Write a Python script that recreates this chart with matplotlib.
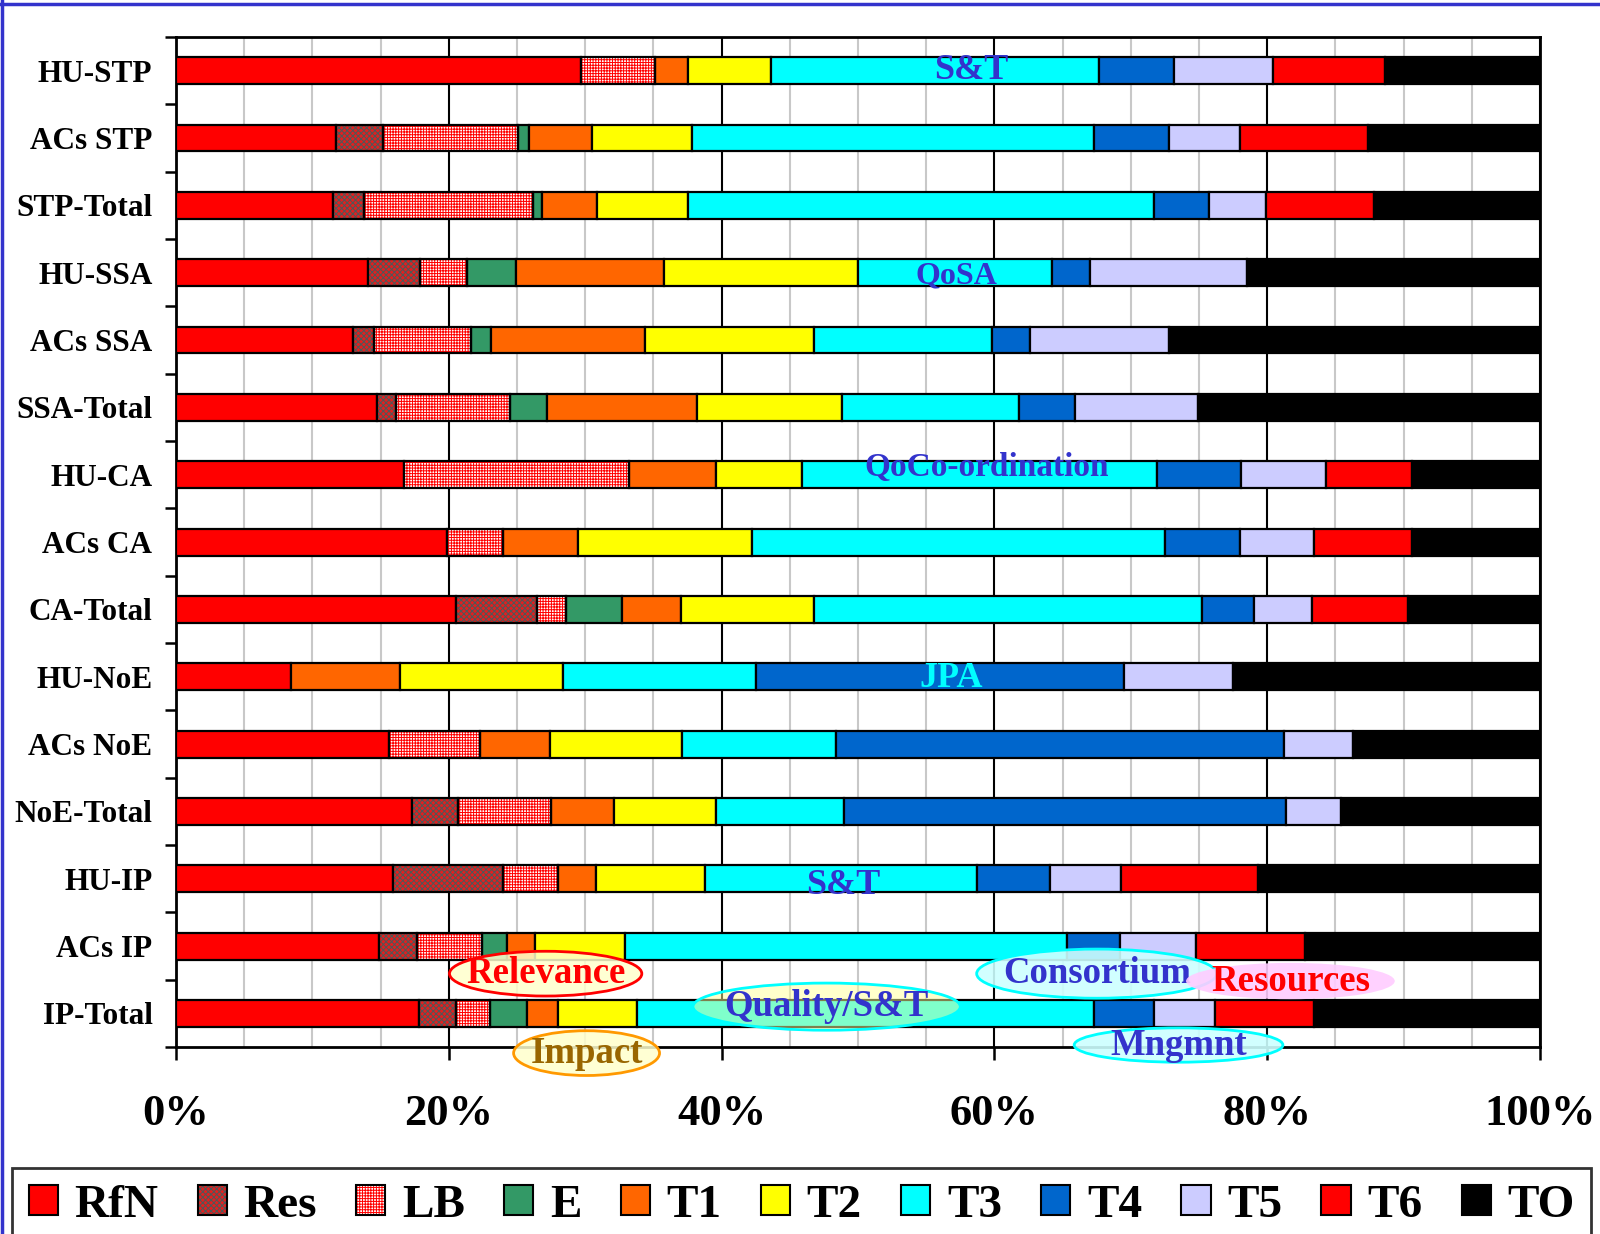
import matplotlib
matplotlib.use("Agg")
import matplotlib.pyplot as plt
import numpy as np
from matplotlib.patches import Patch, Ellipse
from matplotlib.lines import Line2D
from matplotlib.legend_handler import HandlerTuple
from matplotlib.font_manager import FontProperties

# ---------------- data ----------------
categories = ['HU-STP', 'ACs STP', 'STP-Total', 'HU-SSA', 'ACs SSA', 'SSA-Total',
              'HU-CA', 'ACs CA', 'CA-Total', 'HU-NoE', 'ACs NoE', 'NoE-Total',
              'HU-IP', 'ACs IP', 'IP-Total']
series_names = ['RfN', 'Res', 'LB', 'E', 'T1', 'T2', 'T3', 'T4', 'T5', 'T6', 'TO']

RfN = [29.7, 11.7, 11.5, 14.1, 13.0, 14.7, 16.7, 19.9, 20.5, 8.4, 15.6, 17.3, 15.9, 14.9, 17.8]
Res = [0.0, 3.5, 2.3, 3.8, 1.5, 1.4, 0.0, 0.0, 6.0, 0.0, 0.0, 3.4, 8.1, 2.8, 2.7]
LB  = [5.4, 9.9, 12.4, 3.4, 7.1, 8.4, 16.5, 4.1, 2.1, 0.0, 6.7, 6.8, 4.0, 4.7, 2.5]
E   = [0.0, 0.8, 0.6, 3.6, 1.5, 2.7, 0.0, 0.0, 4.1, 0.0, 0.0, 0.0, 0.0, 1.9, 2.7]
T1  = [2.4, 4.6, 4.1, 10.9, 11.3, 11.0, 6.4, 5.5, 4.3, 8.0, 5.1, 4.6, 2.8, 2.0, 2.3]
T2  = [6.1, 7.3, 6.6, 14.2, 12.4, 10.6, 6.3, 12.7, 9.8, 12.0, 9.7, 7.5, 8.0, 6.6, 5.8]
T3  = [24.1, 29.5, 34.2, 14.2, 13.0, 13.0, 26.0, 30.3, 28.4, 14.1, 11.3, 9.4, 19.9, 32.4, 33.5]
T4  = [5.5, 5.5, 4.0, 2.8, 2.8, 4.1, 6.2, 5.5, 3.8, 27.0, 32.8, 32.4, 5.4, 3.9, 4.4]
T5  = [7.2, 5.2, 4.2, 11.5, 10.2, 9.0, 6.2, 5.4, 4.3, 8.0, 5.1, 4.0, 5.2, 5.6, 4.5]
T6  = [8.2, 9.4, 7.9, 0.0, 0.0, 0.0, 6.3, 7.2, 7.0, 0.0, 0.0, 0.0, 10.0, 8.0, 7.2]
TO  = [11.4, 12.6, 12.2, 21.5, 27.2, 25.1, 9.4, 9.4, 9.7, 22.5, 13.7, 14.6, 20.7, 17.2, 16.6]

xtick_labels = ['0%', '20%', '40%', '60%', '80%', '100%']

# ---------------- styles ----------------
series_vals = [RfN, Res, LB, E, T1, T2, T3, T4, T5, T6, TO]
faces = ['#FF0000', '#E02020', '#FFFFFF', '#339966', '#FF6600', '#FFFF00',
         '#00FFFF', '#0066CC', '#CCCCFF', '#FF0000', '#000000']
hatches = [None, 'xxxxxx', '++++++', None, None, None, None, None, None, None, None]
hatch_cols = [None, '#4A5A5A', '#FF0000', None, None, None, None, None, None, None, None]

plt.rcParams['hatch.linewidth'] = 0.7
serif = ['Liberation Serif', 'DejaVu Serif']

fig = plt.figure(figsize=(16, 12.34), dpi=100)
ax = fig.add_axes([0.110, 0.1515, 0.8525, 0.8185])

y = np.arange(len(categories))
left = np.zeros(len(categories))
bar_h = 0.4
for vals, fc, hatch, hc in zip(series_vals, faces, hatches, hatch_cols):
    v = np.array(vals, dtype=float)
    lw = np.where(v > 0, 1.6, 0.0)
    if hatch is not None:
        ax.barh(y, v, left=left, height=bar_h, color=fc, hatch=hatch,
                edgecolor=hc, linewidth=0, zorder=3)
        ax.barh(y, v, left=left, height=bar_h, fill=False,
                edgecolor='black', linewidth=lw, zorder=4)
    else:
        ax.barh(y, v, left=left, height=bar_h, color=fc,
                edgecolor='black', linewidth=lw, zorder=3)
    left += v

ax.set_xlim(0, 100)
ax.set_ylim(len(categories) - 0.5, -0.5)

# x axis
ax.set_xticks(np.arange(0, 101, 20))
ax.set_xticklabels(xtick_labels, fontfamily=serif, fontweight='bold', fontsize=32)
ax.set_xticks(np.arange(0, 101, 5), minor=True)
ax.tick_params(axis='x', which='major', direction='out', length=9, width=1.8, pad=25)
ax.tick_params(axis='x', which='minor', length=0)
ax.grid(axis='x', which='minor', color='#C8C8C8', linewidth=1.5, zorder=0)
ax.grid(axis='x', which='major', color='black', linewidth=1.5, zorder=1)

# y axis: ticks at category boundaries, labels at centres
ax.set_yticks(np.arange(-0.5, len(categories), 1.0))
ax.set_yticklabels([])
ax.set_yticks(y, minor=True)
ax.set_yticklabels(categories, minor=True, fontfamily=serif, fontweight='bold', fontsize=22.5)
ax.tick_params(axis='y', which='major', direction='out', length=8, width=1.8)
ax.tick_params(axis='y', which='minor', length=0, pad=17)

for sp in ax.spines.values():
    sp.set_linewidth(2)
    sp.set_color('black')
ax.set_axisbelow(True)

# ---------------- annotations ----------------
blue = '#3333CC'
tfont = dict(fontfamily=serif, fontweight='bold', ha='center', va='center', zorder=8)
ax.text(58.3, 0.0, 'S&T', color=blue, fontsize=26, **tfont)
ax.text(57.2, 3.05, 'QoSA', color=blue, fontsize=23, **tfont)
ax.text(59.4, 5.9, 'QoCo-ordination', color=blue, fontsize=24, **tfont)
ax.text(56.8, 9.03, 'JPA', color='#00FFFF', fontsize=26, **tfont)
ax.text(48.9, 12.1, 'S&T', color=blue, fontsize=26, **tfont)

ellipses = [
    # x, y, w, h, face, alpha, edge, text, text colour
    (27.1, 13.41, 14.1, 0.665, '#FFFFCC', 0.85, '#FF0000', 'Relevance', '#FF0000'),
    (67.5, 13.41, 17.6, 0.73, '#CCFFFF', 0.9, '#00FFFF', 'Consortium', blue),
    (81.7, 13.52, 15.3, 0.54, '#FFCCFF', 0.9, 'none', 'Resources', '#FF0000'),
    (47.7, 13.90, 19.6, 0.70, '#FFFF99', 0.5, '#00FFFF', 'Quality/S&T', blue),
    (30.1, 14.59, 10.7, 0.665, '#FFFFCC', 0.85, '#FF9900', 'Impact', '#996600'),
    (73.5, 14.47, 15.3, 0.51, '#CCFFFF', 0.9, '#00FFFF', 'Mngmnt', blue),
]
z = 10
for (ex, ey, ew, eh, efc, ea, eec, txt, tc) in ellipses:
    face_rgba = matplotlib.colors.to_rgba(efc, ea)
    e = Ellipse((ex, ey), ew, eh, facecolor=face_rgba, edgecolor=eec,
                linewidth=2, clip_on=False, zorder=z)
    ax.add_patch(e)
    ax.text(ex, ey, txt, color=tc, fontsize=26.5, fontfamily=serif, fontweight='bold',
            ha='center', va='center', zorder=z + 1, clip_on=False)
    z += 2

# ---------------- legend ----------------
handles = []
for fc, hatch, hc in zip(faces, hatches, hatch_cols):
    if hatch is not None:
        h = (Patch(facecolor=fc, hatch=hatch, edgecolor=hc, linewidth=0),
             Patch(fill=False, edgecolor='black', linewidth=1.5))
    else:
        h = Patch(facecolor=fc, edgecolor='black', linewidth=1.5)
    handles.append(h)

leg = fig.legend(handles, series_names, loc='upper left',
                 bbox_to_anchor=(0.0075, 0.0535, 0.987, 0.0), mode='expand',
                 ncol=11, frameon=True, fancybox=False, borderaxespad=0,
                 prop=FontProperties(family=serif, weight='bold', size=34),
                 handlelength=0.62, handleheight=0.62, handletextpad=0.35,
                 borderpad=0.35,
                 handler_map={tuple: HandlerTuple(ndivide=1, pad=0)})
leg.get_frame().set_edgecolor('black')
leg.get_frame().set_linewidth(2)

# blue border at top and left of the figure
fig.add_artist(Line2D([0, 1], [1 - 4 / 1234, 1 - 4 / 1234], color='#3333CC',
                      linewidth=2.5, transform=fig.transFigure))
fig.add_artist(Line2D([2 / 1600, 2 / 1600], [0, 1], color='#3333CC',
                      linewidth=2.5, transform=fig.transFigure))

fig.savefig('out.png', dpi=100)
